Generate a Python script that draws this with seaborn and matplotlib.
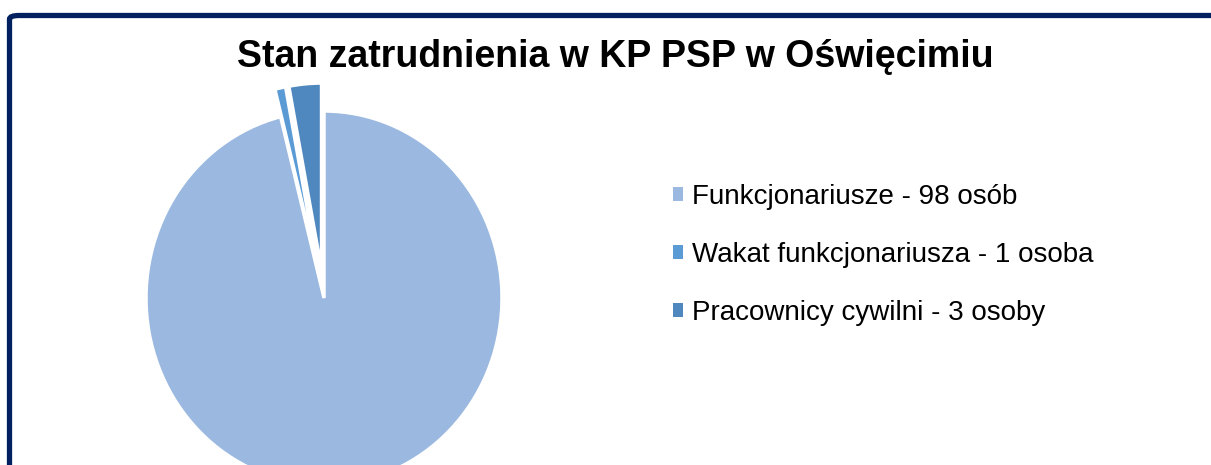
import matplotlib
matplotlib.use('Agg')
import matplotlib.pyplot as plt
import seaborn as sns
from matplotlib.patches import FancyBboxPatch, Patch

categories = ['Funkcjonariusze - 98 osób', 'Wakat funkcjonariusza - 1 osoba', 'Pracownicy cywilni - 3 osoby']
values = [98, 1, 3]
colors = ['#9BB9E0', '#5B9BD5', '#4F88BF']
explode = [0, 0.15, 0.15]
title = 'Stan zatrudnienia w KP PSP w Oświęcimiu'

sns.set_style('white')
plt.rcParams['font.family'] = ['Liberation Sans', 'DejaVu Sans']
plt.rcParams['text.color'] = 'black'

W, H = 1211, 465
fig = plt.figure(figsize=(W / 100, H / 100), dpi=100)

# navy frame, running off the right and bottom edges
frame = FancyBboxPatch((9.5 / W, -0.2), 1.3, (H - 15.5) / H + 0.2,
                       boxstyle='round,pad=0,rounding_size=0.008',
                       transform=fig.transFigure, facecolor='none',
                       edgecolor='#002060', linewidth=3.8, zorder=0)
fig.patches.append(frame)

# pie axes: center (324, 298) px, rx 178 px, ry 187 px
cx, cy, rx, ry = 324, 298, 178, 187
x0, x1, y0, y1 = -1.2, 1.2, -1.2, 1.3
left = (cx + x0 * rx) / W
width = (x1 - x0) * rx / W
bottom = (H - (cy - y0 * ry)) / H
height = (y1 - y0) * ry / H
ax = fig.add_axes([left, bottom, width, height])
ax.pie(values, colors=colors, explode=explode, startangle=90, counterclock=False,
       wedgeprops=dict(edgecolor='white', linewidth=2.5))
ax.set_xlim(x0, x1)
ax.set_ylim(y0, y1)
ax.set_aspect('auto')
ax.axis('off')

fig.text(615 / W, 1 - 67 / H, title, ha='center', va='baseline',
         fontsize=27, fontweight='bold', color='black')

handles = [Patch(facecolor=c, edgecolor='none') for c in colors]
fig.legend(handles, categories, loc='upper left', bbox_to_anchor=(648 / W, 1 - 159 / H),
           frameon=False, fontsize=20, handlelength=0.37, handleheight=0.37,
           handletextpad=0.33, labelspacing=1.15, labelcolor='black')

fig.savefig('out.png', dpi=100)
